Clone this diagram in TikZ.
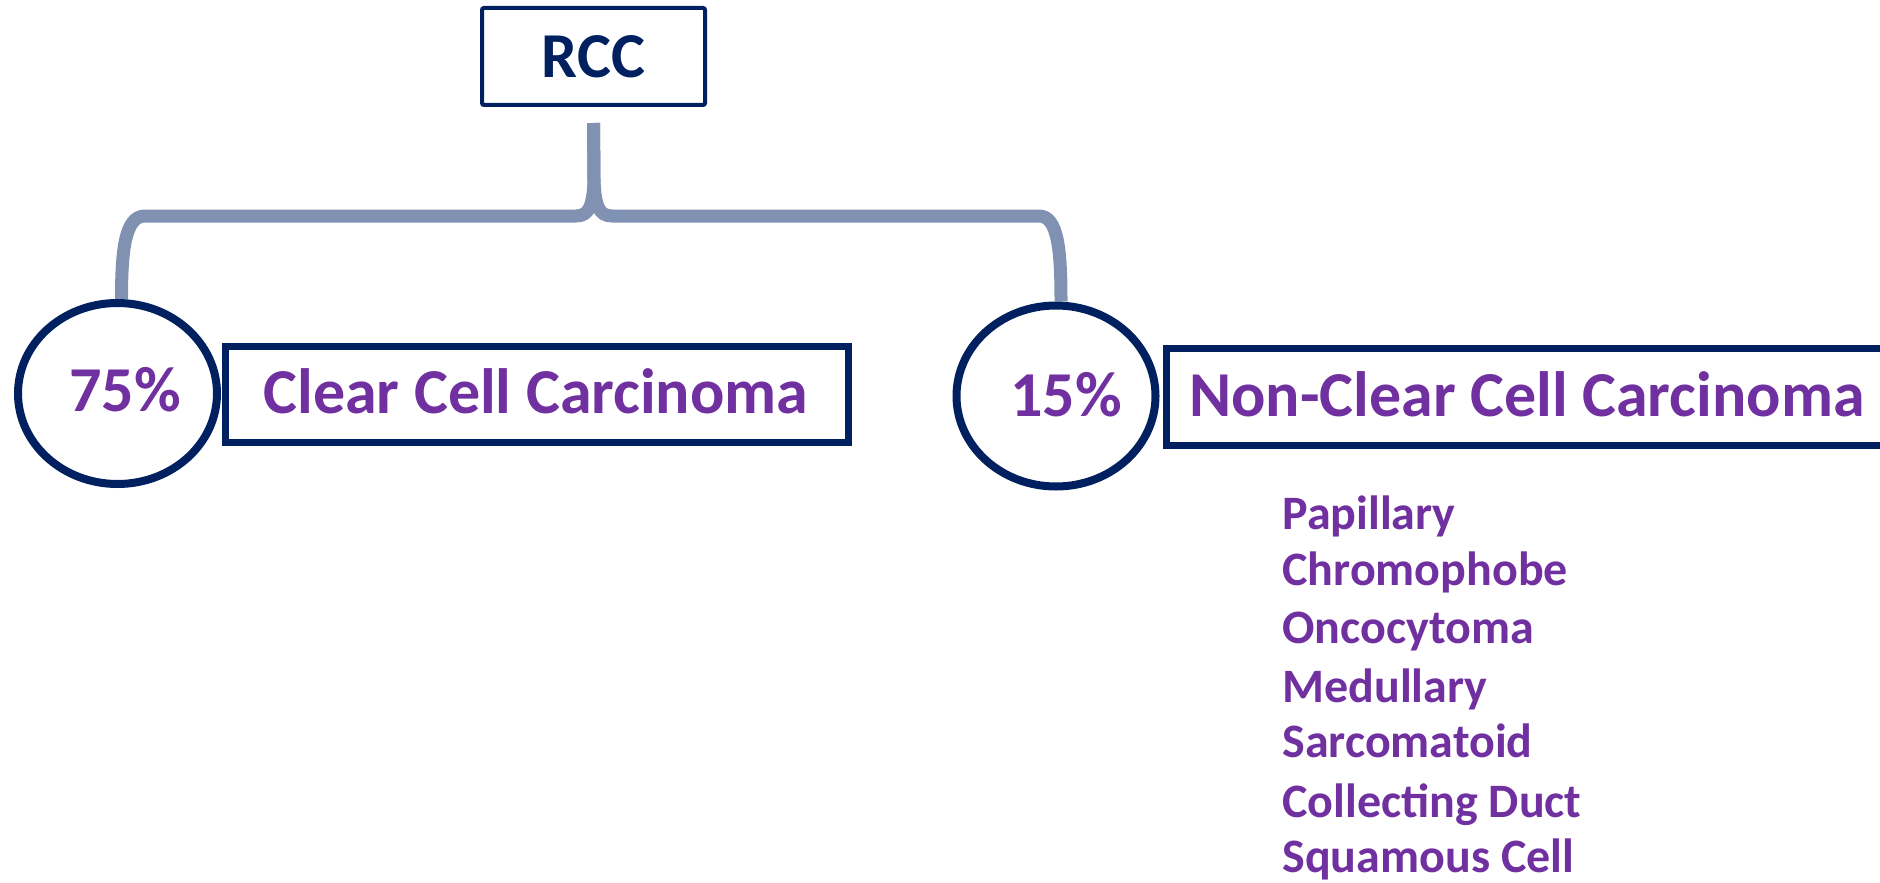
\documentclass[tikz,border=0pt]{standalone}
\usepackage{fontspec}
\setmainfont{Carlito}
\usetikzlibrary{shapes.geometric,calc}
\pgfdeclarelayer{background}
\pgfsetlayers{background,main}
\definecolor{navy}{RGB}{0,32,96}
\definecolor{purp}{RGB}{112,48,160}
\definecolor{bracec}{RGB}{128,145,178}
\begin{document}
\begin{tikzpicture}[x=0.5pt,y=-0.5pt,
  boxnode/.style={rectangle, draw=navy, line width=3.5pt, fill=white, inner sep=0pt},
  ellnode/.style={ellipse, draw=navy, line width=4pt, fill=white, inner sep=0pt,
    minimum width=99.5pt, minimum height=90.5pt},
  bigtext/.style={font=\bfseries\fontsize{32}{32}\selectfont, text=purp, inner sep=0pt, anchor=base},
  listitem/.style={font=\bfseries\fontsize{24}{24}\selectfont, text=purp, inner sep=0pt, anchor=base west},
  bracepath/.style={draw=bracec, line width=6.5pt, line join=round}]
\useasboundingbox (0,0) rectangle (1880,883);
% RCC
\node[boxnode, line width=2pt, rounded corners=1pt, minimum width=111.5pt, minimum height=48.5pt,
  font=\bfseries\fontsize{32}{32}\selectfont, text=navy] (rcc) at (593.5,56.5) {RCC};
\coordinate (stemtop) at ($(rcc.south)+(0,16)$);
% boxes
\node[boxnode, minimum width=311.5pt, minimum height=48pt] (ccbox) at (537,394.5) {};
\node[boxnode, minimum width=396.75pt, minimum height=48.5pt] (ncbox) at (1563,397) {};
% ellipses
\node[ellnode] (ell75) at (117.5,393.5) {};
\node[ellnode] (ell15) at (1056,396) {};
\coordinate (bl) at ($(ell75.north)+(4,0)$);
\coordinate (br) at ($(ell15.north)+(5,0)$);
% texts
\node[bigtext] (t75) at (125,411) {75\%};
\node[bigtext] (tcc) at (536,413) {Clear Cell Carcinoma};
\node[bigtext] (t15) at (1066,416) {15\%};
\node[bigtext] (tnc) at (1527,416) {Non-Clear Cell Carcinoma};
% list
\node[listitem] (l1) at (1282,529) {Papillary};
\node[listitem] (l2) at (1282,585) {Chromophobe};
\node[listitem] (l3) at (1282,643) {Oncocytoma};
\node[listitem] (l4) at (1282,702) {Medullary};
\node[listitem] (l5) at (1282,757) {Sarcomatoid};
\node[listitem] (l6) at (1282,817) {Collecting Duct};
\node[listitem] (l7) at (1282,872) {Squamous Cell};
% brace
\begin{pgfonlayer}{background}
\fill[white] (0,0) rectangle (1880,883);
\draw[bracepath] (bl) .. controls (121.5,250) and (125,216) .. (145,216)
  -- (576,216) .. controls (589,216) and (593,206) .. (594,180) -- (stemtop);
\draw[bracepath] (br) .. controls (1061,250) and (1058,216) .. (1039,216)
  -- (612,216) .. controls (599,216) and (595,206) .. (594,180) -- (stemtop);
\end{pgfonlayer}
\end{tikzpicture}
\end{document}
